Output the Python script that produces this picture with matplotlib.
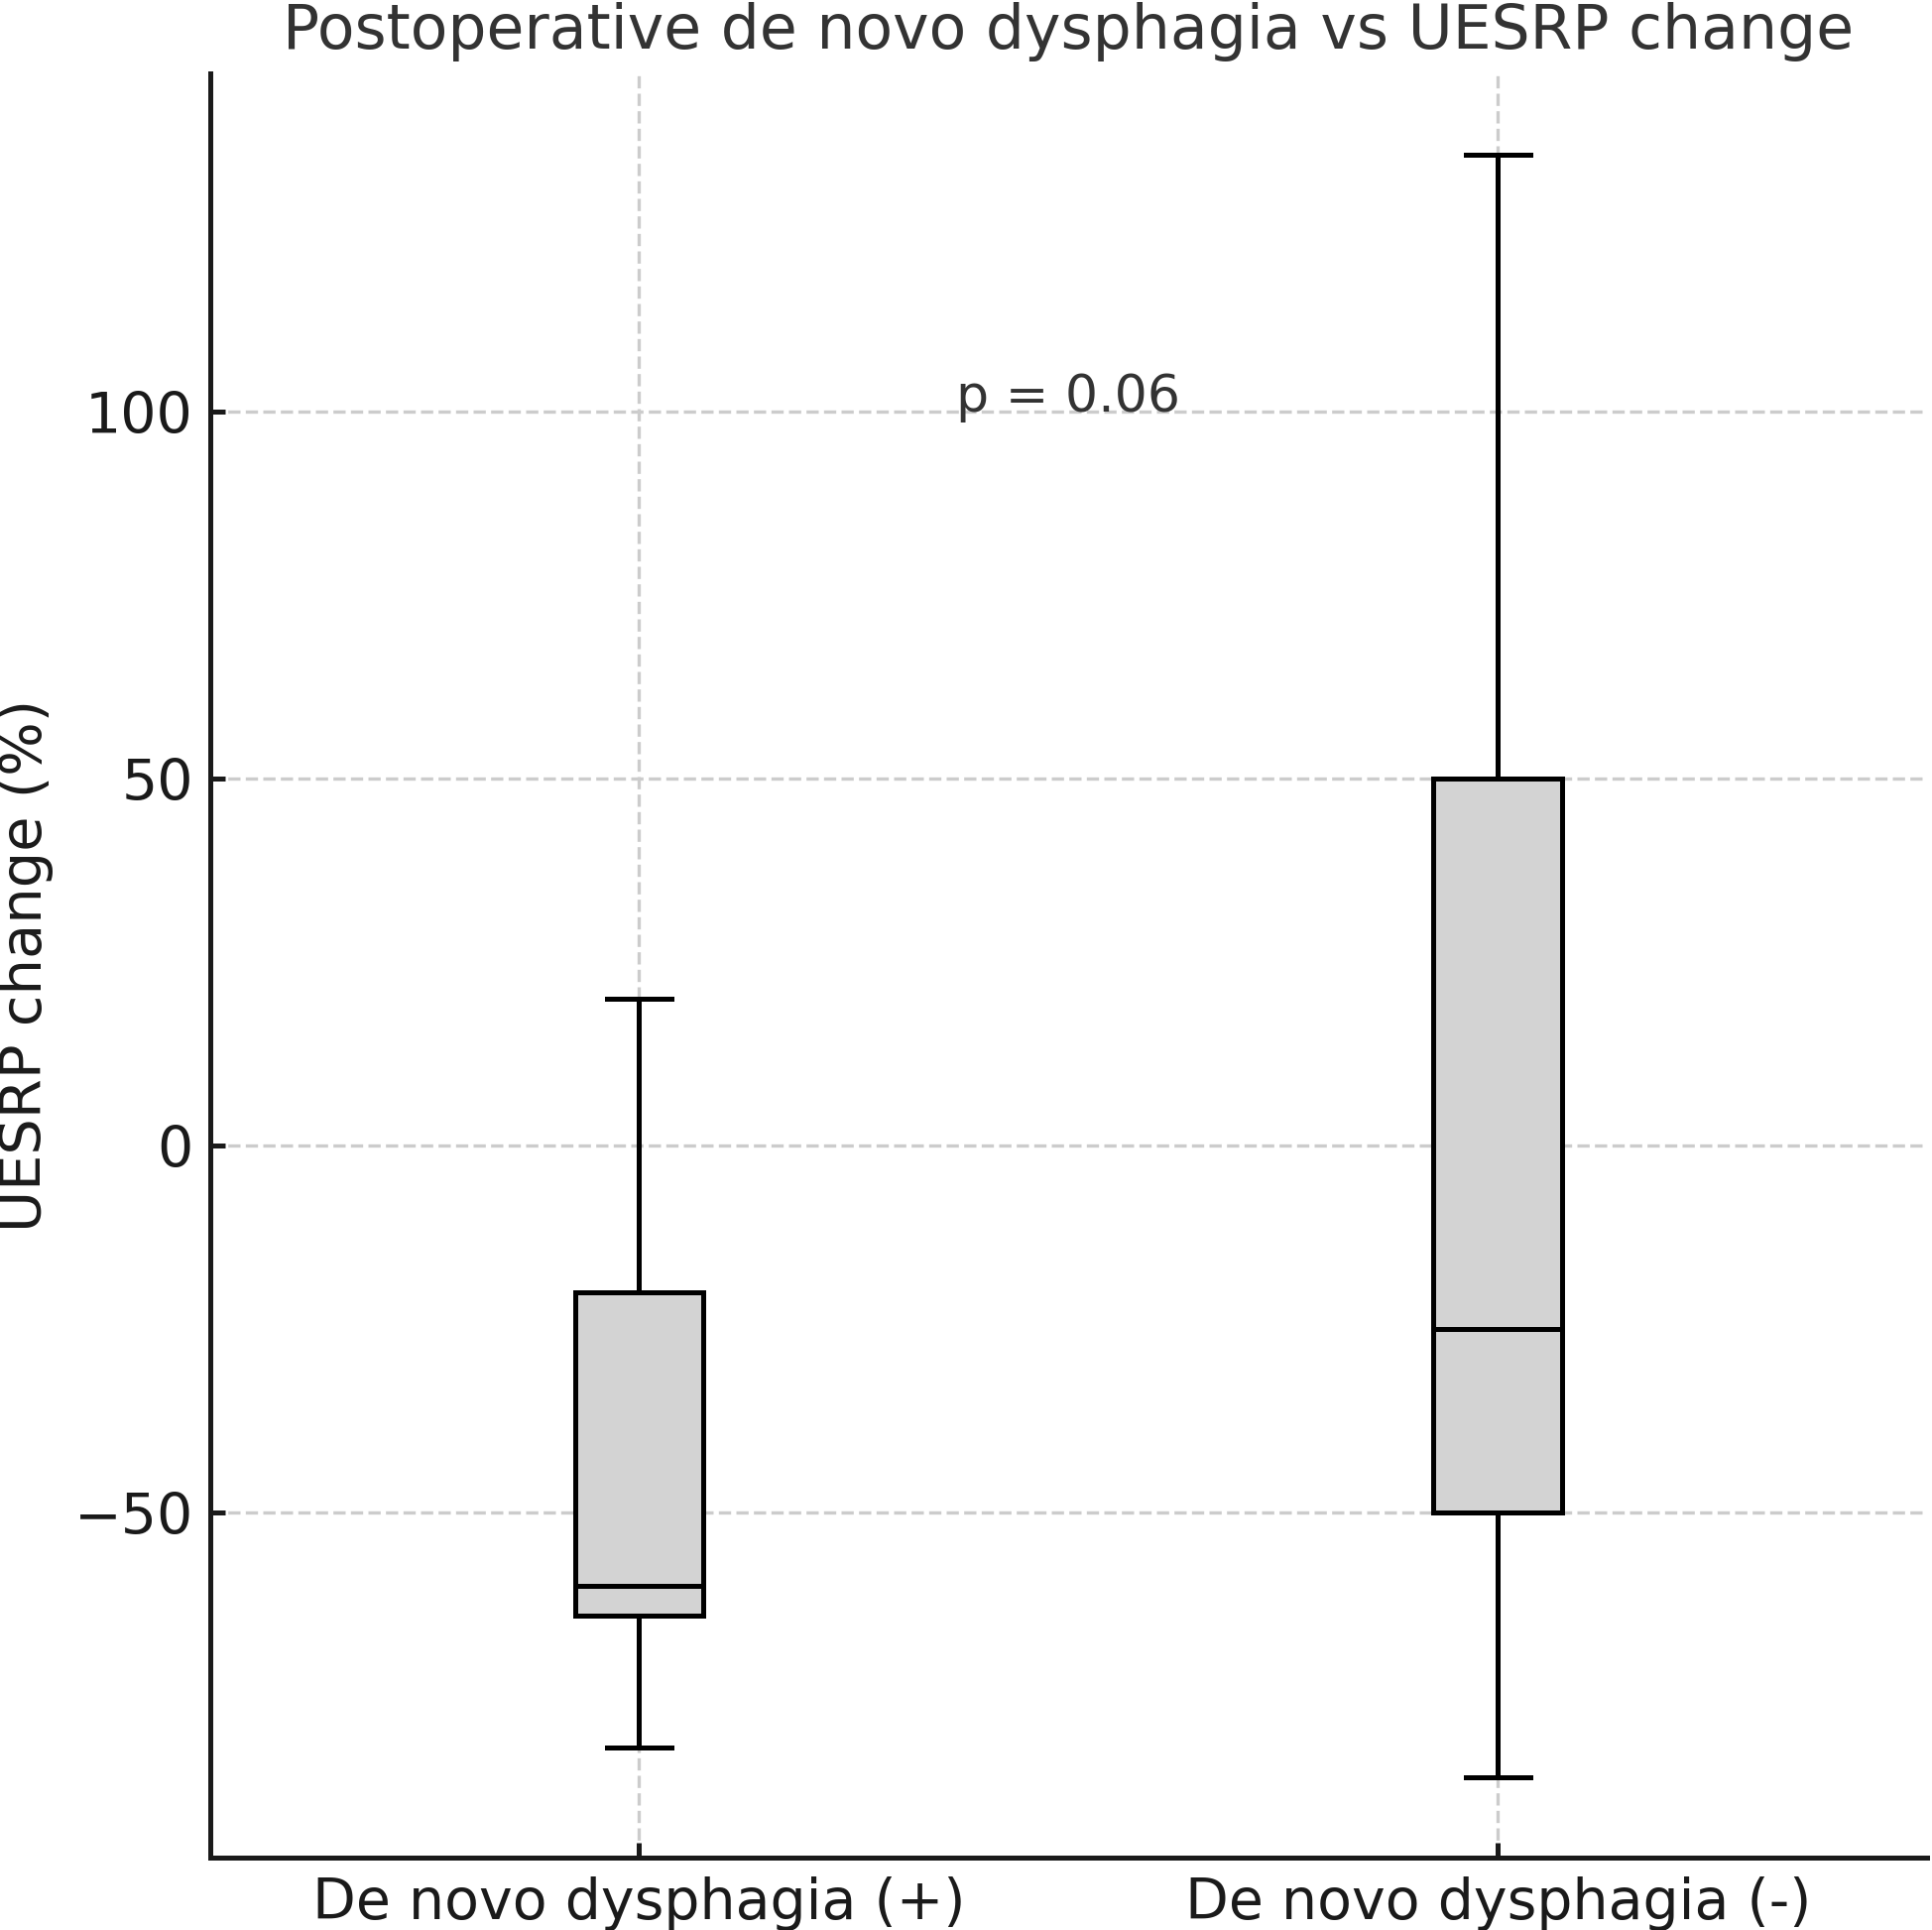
import matplotlib
matplotlib.use("Agg")
import matplotlib.pyplot as plt

# Box-plot summary stats (UESRP change, %)
GROUPS = ["De novo dysphagia (+)", "De novo dysphagia (-)"]
WHISLO = [-82, -86]
Q1 = [-64, -50]
MED = [-60, -25]
Q3 = [-20, 50]
WHISHI = [20, 135]
P_TEXT = "p = 0.06"

DPI = 300
fig = plt.figure(figsize=(1948 / DPI, 1946 / DPI), dpi=DPI)
ax = fig.add_axes([0.1086, 0.0373, 0.889, 0.9245])

stats = []
for i, name in enumerate(GROUPS):
    stats.append({
        "label": name, "whislo": WHISLO[i], "q1": Q1[i], "med": MED[i],
        "q3": Q3[i], "whishi": WHISHI[i], "fliers": [],
    })

lw = 1.2
ax.bxp(stats, positions=[1, 2], widths=0.15, patch_artist=True, showfliers=False,
       boxprops=dict(facecolor="lightgray", edgecolor="black", linewidth=lw),
       medianprops=dict(color="black", linewidth=lw),
       whiskerprops=dict(color="black", linewidth=lw),
       capprops=dict(color="black", linewidth=lw))

ax.set_xlim(0.5, 2.5)
ax.text(1.5, 100, P_TEXT, ha="center", va="baseline", fontsize=12.5, color="#333333")

ax.set_title("Postoperative de novo dysphagia vs UESRP change", fontsize=14.8, color="#333333")
ax.set_ylabel("UESRP change (%)", fontsize=13.8, color="#1a1a1a", labelpad=5)
ax.set_yticks([-50, 0, 50, 100])

ax.grid(True, linestyle="--", color="#cccccc", linewidth=0.8)
ax.set_axisbelow(True)
for side in ("top", "right"):
    ax.spines[side].set_visible(False)
for side in ("left", "bottom"):
    ax.spines[side].set_linewidth(lw)
    ax.spines[side].set_color("#1a1a1a")
ax.tick_params(direction="in", length=3.5, width=lw, labelsize=13.7, colors="#1a1a1a")
ax.tick_params(axis="y", pad=4)
ax.tick_params(axis="x", pad=4.5)

fig.savefig("out.png", dpi=DPI)
